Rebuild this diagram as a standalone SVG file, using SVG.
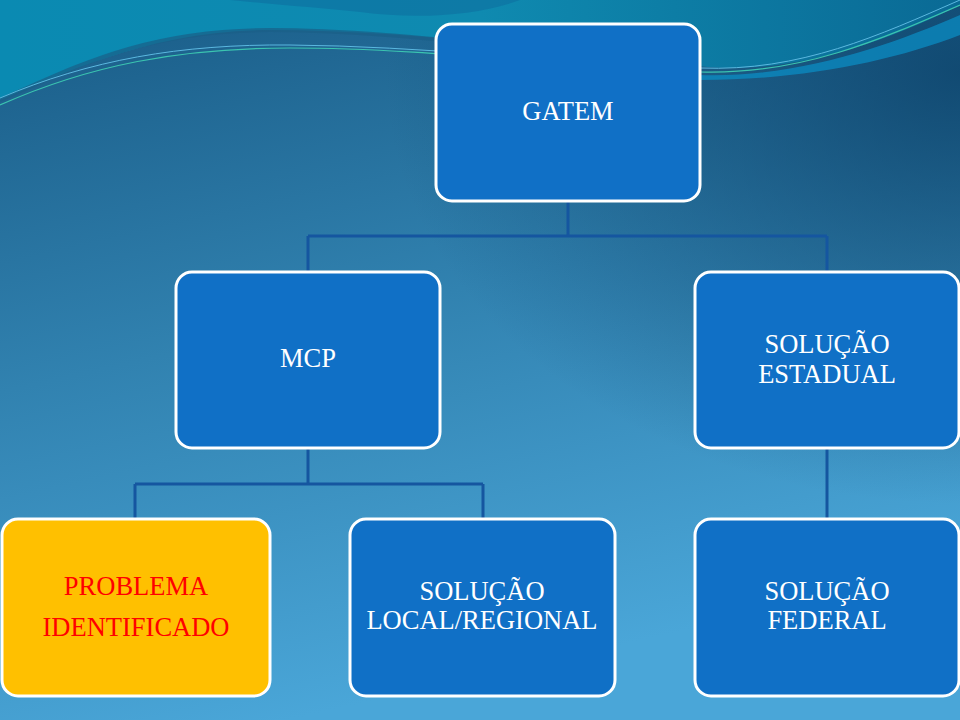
<svg xmlns="http://www.w3.org/2000/svg" width="960" height="720" viewBox="0 0 960 720">
<defs>
<linearGradient id="bg" x1="0" y1="0" x2="0.3" y2="1">
<stop offset="0" stop-color="#185a85"/>
<stop offset="0.5" stop-color="#3182b0"/>
<stop offset="1" stop-color="#4aa6d8"/>
</linearGradient>
<radialGradient id="dk" cx="1" cy="0.1" r="0.6">
<stop offset="0" stop-color="#0b3f66" stop-opacity="0.8"/>
<stop offset="1" stop-color="#0b3f66" stop-opacity="0"/>
</radialGradient>
<linearGradient id="teal" x1="0" y1="0" x2="1" y2="0">
<stop offset="0" stop-color="#0a8ab2"/>
<stop offset="0.5" stop-color="#0f8ab0"/>
<stop offset="1" stop-color="#0a6a95"/>
</linearGradient>
<style>
.box{fill:#1070c6;stroke:#ffffff;stroke-width:3}
.hl{fill:#ffc000;stroke:#ffffff;stroke-width:3}
.t{font-family:"Liberation Serif","DejaVu Serif",serif;font-size:26.5px;fill:#ffffff;text-anchor:middle}
.r{fill:#ff0000}
.c{fill:none;stroke:#1556a0;stroke-width:3}
</style>
</defs>
<rect width="960" height="720" fill="url(#bg)"/>
<rect width="960" height="720" fill="url(#dk)"/>
<path d="M0,0 H960 V5 C850,60 760,75 690,65 C600,55 420,30 270,30 C150,30 60,75 0,100 Z" fill="url(#teal)"/>
<path d="M230,0 H520 C480,15 420,20 360,12 C320,8 270,4 230,0 Z" fill="#0d6fa0" opacity="0.6"/>
<path d="M0,100 C70,70 140,30 270,30 C400,30 560,55 690,60" fill="none" stroke="#1a5f88" stroke-width="4" opacity="0.7"/>
<path d="M0,105 C90,65 180,48 290,48 C420,48 560,65 700,72 C800,75 880,40 960,5" fill="none" stroke="#3bc4b0" stroke-width="1.2"/>
<path d="M0,98 C90,60 180,44 290,45 C420,46 560,62 700,68 C800,72 880,35 960,0" fill="none" stroke="#5bb8e0" stroke-width="1"/>
<path d="M700,75 C800,78 890,45 960,15 V35 C890,62 800,80 700,80 Z" fill="#0a90c8" opacity="0.7"/>
<g id="connectors">
<path class="c" d="M568,201 V236 M308,236 H827 M308,236 V272 M827,236 V272"/>
<path class="c" d="M308,448 V484 M135,484 H483 M135,484 V519 M483,484 V519"/>
<path class="c" d="M827,448 V519"/>
</g>
<g id="gatem">
<rect class="box" x="436" y="24" width="264" height="177" rx="16"/>
<text class="t" x="568" y="120">GATEM</text>
</g>
<g id="mcp">
<rect class="box" x="176" y="272" width="264" height="176" rx="16"/>
<text class="t" x="308" y="367">MCP</text>
</g>
<g id="estadual">
<rect class="box" x="695" y="272" width="264" height="176" rx="16"/>
<text class="t" x="827" y="353">SOLUÇÃO</text>
<text class="t" x="827" y="383">ESTADUAL</text>
</g>
<g id="problema">
<rect class="hl" x="2" y="519" width="268" height="177" rx="16"/>
<text class="t r" x="136" y="595">PROBLEMA</text>
<text class="t r" x="136" y="636">IDENTIFICADO</text>
</g>
<g id="local">
<rect class="box" x="350" y="519" width="265" height="177" rx="16"/>
<text class="t" x="482" y="600">SOLUÇÃO</text>
<text class="t" x="482" y="629">LOCAL/REGIONAL</text>
</g>
<g id="federal">
<rect class="box" x="695" y="519" width="264" height="177" rx="16"/>
<text class="t" x="827" y="600">SOLUÇÃO</text>
<text class="t" x="827" y="629">FEDERAL</text>
</g>
</svg>
